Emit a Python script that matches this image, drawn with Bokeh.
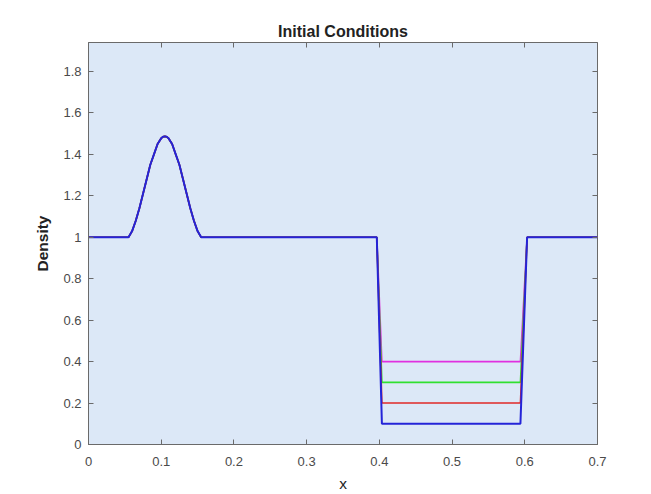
from bokeh.plotting import figure
from bokeh.models import LinearAxis, FixedTicker, Range1d
from bokeh.embed import file_html
from bokeh.resources import INLINE

# ---- data ----
x_profile = [0.0, 0.055, 0.060, 0.065, 0.070, 0.075, 0.080, 0.085, 0.090, 0.095,
             0.100, 0.1025, 0.105, 0.1075, 0.110, 0.115, 0.120, 0.125, 0.130, 0.135,
             0.140, 0.145, 0.150, 0.155, 0.3965, 0.4035, 0.594, 0.6032, 0.7]
y_upper = [1.0, 1.0, 1.03, 1.08, 1.14, 1.21, 1.28, 1.35, 1.40, 1.45,
           1.478, 1.485, 1.487, 1.485, 1.478, 1.45, 1.40, 1.35, 1.28, 1.21,
           1.14, 1.08, 1.03, 1.0, 1.0, None, None, 1.0, 1.0]
well_level_red = 0.2
well_level_green = 0.3
well_level_magenta = 0.4
well_level_blue = 0.1

x_ticks = [0, 0.1, 0.2, 0.3, 0.4, 0.5, 0.6, 0.7]
x_tick_labels = ["0", "0.1", "0.2", "0.3", "0.4", "0.5", "0.6", "0.7"]
y_ticks = [0, 0.2, 0.4, 0.6, 0.8, 1, 1.2, 1.4, 1.6, 1.8]
y_tick_labels = ["0", "0.2", "0.4", "0.6", "0.8", "1", "1.2", "1.4", "1.6", "1.8"]

FONT = "Liberation Sans"
AXIS_COL = "#6a6a6a"
LABEL_COL = "#4a4a4a"


def curve(level):
    return [level if v is None else v for v in y_upper]


p = figure(width=651, height=494, output_backend="svg", toolbar_location=None,
           x_range=Range1d(0, 0.7), y_range=Range1d(0, 1.94),
           min_border_left=88, min_border_right=54, min_border_top=42,
           min_border_bottom=50, background_fill_color="#dce8f7",
           border_fill_color="white", title="Initial Conditions")

p.title.align = "center"
p.title.text_font = FONT
p.title.text_font_size = "16px"
p.title.text_font_style = "bold"
p.title.text_color = "#222222"
p.title.standoff = 5

p.grid.visible = False
p.outline_line_color = AXIS_COL
p.outline_line_width = 1

for ax, ticks, labels in ((p.xaxis[0], x_ticks, x_tick_labels),
                          (p.yaxis[0], y_ticks, y_tick_labels)):
    ax.ticker = FixedTicker(ticks=ticks)
    ax.major_label_overrides = dict(zip(ticks, labels))
    ax.axis_line_color = AXIS_COL
    ax.major_tick_line_color = AXIS_COL
    ax.major_tick_in = 5
    ax.major_tick_out = 0
    ax.minor_tick_line_color = None
    ax.major_label_text_font = FONT
    ax.major_label_text_font_size = "13px"
    ax.major_label_text_color = LABEL_COL
    ax.axis_label_text_font = FONT
    ax.axis_label_text_font_size = "15.5px"
    ax.axis_label_text_color = "#222222"

p.xaxis[0].axis_label = "x"
p.xaxis[0].axis_label_text_font_style = "normal"
p.xaxis[0].major_label_standoff = 12
p.xaxis[0].axis_label_standoff = 6
p.yaxis[0].axis_label = "Density"
p.yaxis[0].axis_label_text_font_style = "bold"
p.yaxis[0].major_label_standoff = 7
p.yaxis[0].axis_label_standoff = 9

top = LinearAxis(ticker=FixedTicker(ticks=x_ticks), major_label_text_color=None,
                 axis_line_color=None, major_tick_line_color=AXIS_COL,
                 major_tick_in=5, major_tick_out=0, minor_tick_line_color=None,
                 major_label_text_font_size="0px", major_label_standoff=0)
right = LinearAxis(ticker=FixedTicker(ticks=y_ticks), major_label_text_color=None,
                   axis_line_color=None, major_tick_line_color=AXIS_COL,
                   major_tick_in=5, major_tick_out=0, minor_tick_line_color=None,
                   major_label_text_font_size="0px", major_label_standoff=0)
p.add_layout(top, "above")
p.add_layout(right, "right")

p.line(x_profile, curve(well_level_magenta), line_color="#e030e0", line_width=1.6)
p.line(x_profile, curve(well_level_green), line_color="#30e030", line_width=1.6)
p.line(x_profile, curve(well_level_red), line_color="#e02828", line_width=1.6)
p.line(x_profile, curve(well_level_blue), line_color="#2424d8", line_width=2.0)

open("out.html", "w").write(file_html(p, INLINE))
